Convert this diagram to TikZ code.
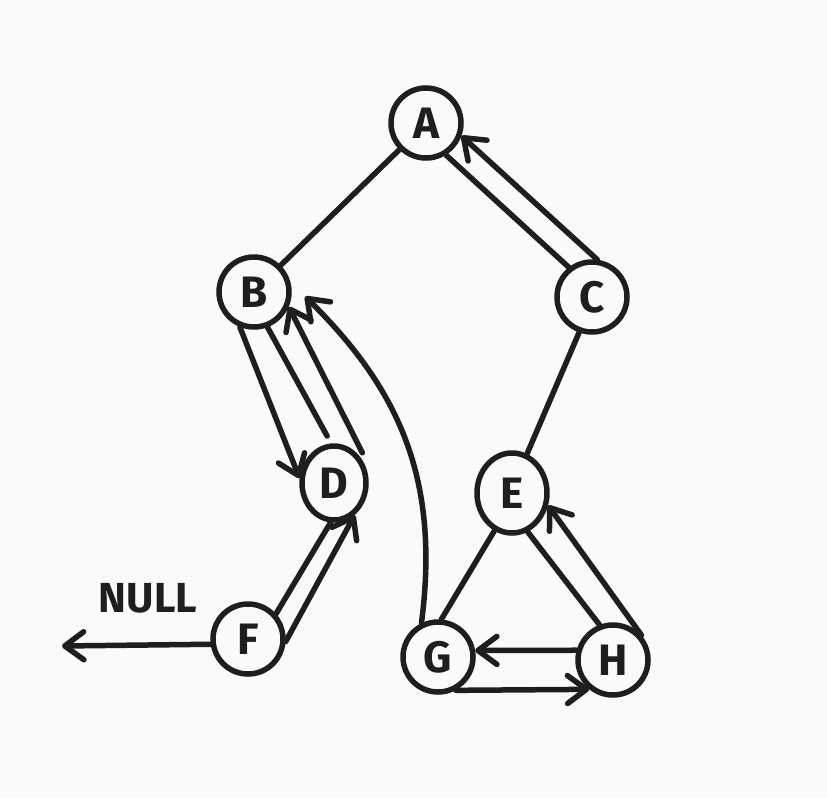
\documentclass[tikz,border=0pt]{standalone}
\usepackage{fontspec}
\setmainfont{Fira Sans}
\usetikzlibrary{arrows.meta,calc,shapes.geometric}
\definecolor{ink}{RGB}{30,30,30}
\definecolor{bg}{RGB}{249,250,251}
\tikzset{
  tnode/.style={circle,draw=ink,line width=5.5pt,minimum size=70pt,inner sep=0pt,
    font=\fontsize{44}{44}\selectfont\bfseries,text=ink},
  edge/.style={draw=ink,line width=5.5pt,line cap=round},
  ptr/.style={edge,-{Straight Barb[length=19pt,width=28pt,line width=5.5pt,round]}}
}
\begin{document}
\begin{tikzpicture}[x=1pt,y=-1pt]
\fill[bg] (0,0) rectangle (827,798);
\useasboundingbox (0,0) rectangle (827,798);
\node[tnode] (A) at (426,123) {A};
\node[tnode] (B) at (254,292) {B};
\node[tnode] (C) at (592,297) {C};
\node[tnode,ellipse,minimum width=64pt,minimum height=74pt] (D) at (334,483) {D};
\node[tnode,ellipse,minimum width=70pt,minimum height=80pt] (E) at (512,493) {E};
\node[tnode] (F) at (248,639) {F};
\node[tnode] (G) at (438,657) {G};
\node[tnode] (H) at (613,660) {H};
\node[font=\fontsize{42}{42}\selectfont\bfseries,text=ink] (N) at (148,598) {NULL};
\coordinate (nullend) at (62,646);
% tree edges
\draw[edge] (A.225) -- (B.45);
\draw[edge] (A.-58) -- (C.128);
\draw[edge] (B.-69) -- ($(D.100)+(0,-8)$);
\draw[edge] (D.-95) -- (F.42);
\draw[edge] (C.-110) -- (E.69);
\draw[edge] (E.245) -- (G.85);
\draw[edge] (E.-68) -- (H.111);
% traversal arrows
\draw[ptr] (C.82) -- (A.-20);
\draw[ptr] (B.248) -- (D.172);
\draw[ptr] ($(D.47)+(3,-3)$) -- (B.-23);
\draw[ptr] (G.116) .. controls (440,480) and (400,390) .. ($(B.-10)+(14,-2)$);
\draw[ptr] (F.-4) -- (D.-57);
\draw[ptr] (F.188) -- (nullend);
\draw[ptr] (H.41) -- (E.-19);
\draw[ptr] (H.165) -- (G.10);
\draw[ptr] (G.-62) -- (H.231);
\end{tikzpicture}
\end{document}
